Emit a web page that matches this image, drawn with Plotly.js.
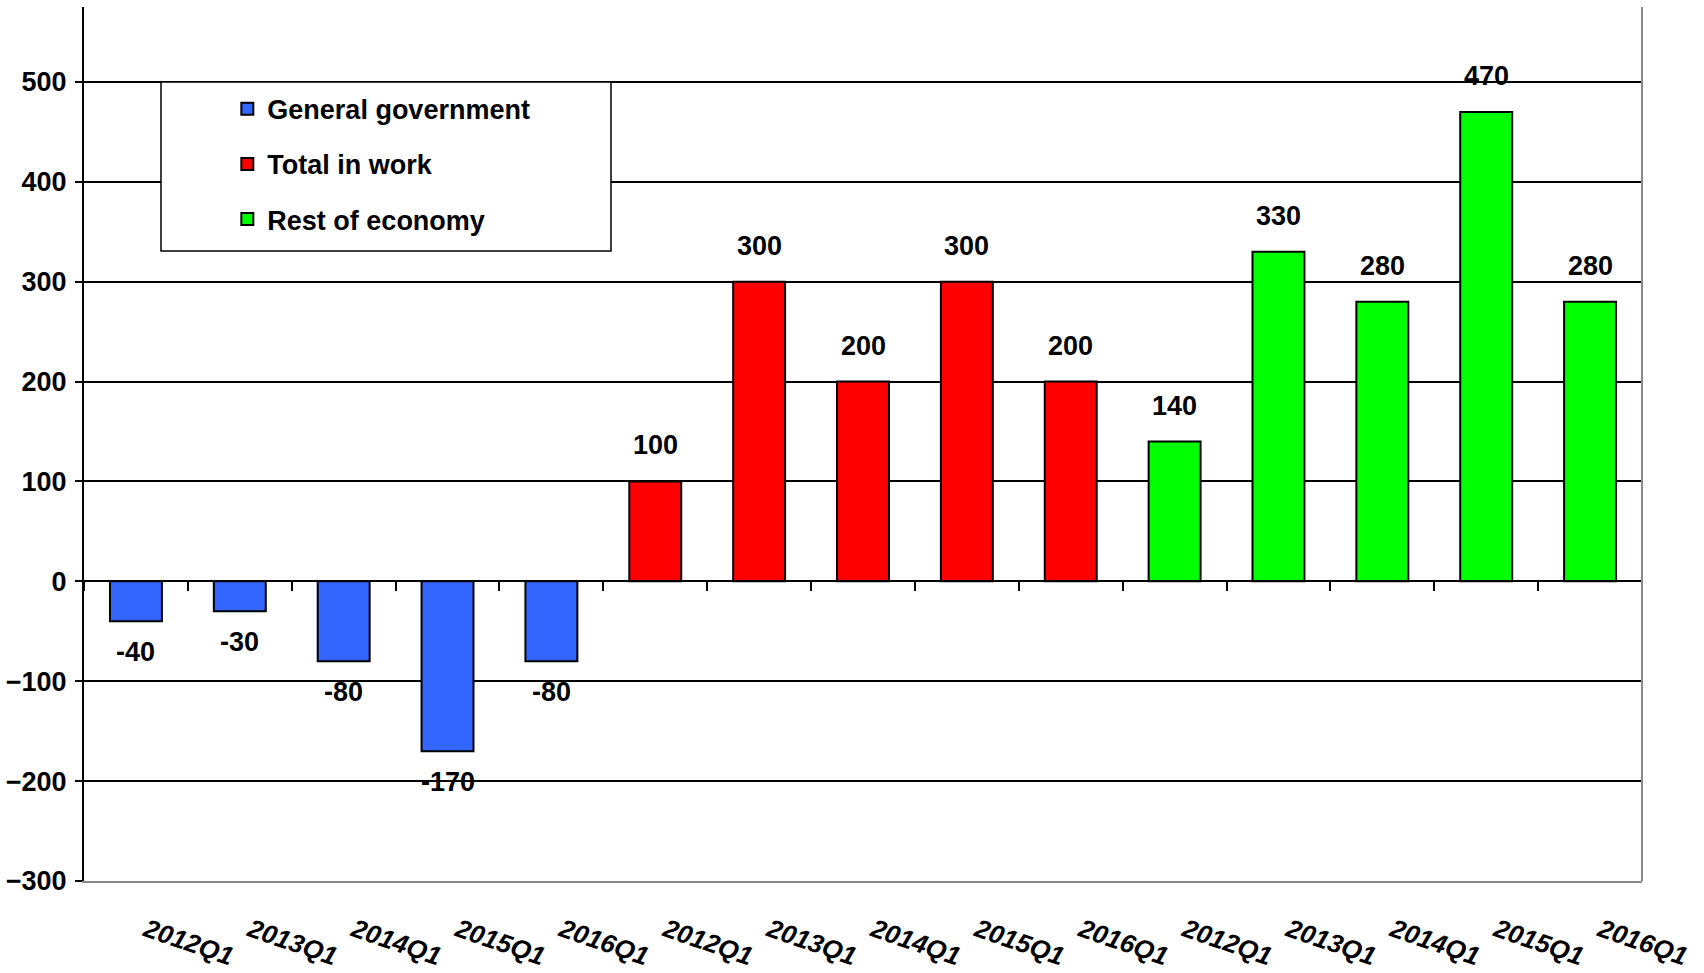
<!DOCTYPE html>
<html>
<head>
<meta charset="utf-8">
<script src="https://cdn.plot.ly/plotly-3.0.1.min.js"></script>
<style>
  html, body { margin: 0; padding: 0; background: #ffffff; }
  #chart { width: 1704px; height: 973px; }
</style>
</head>
<body>
<div id="chart"></div>
<script>
// ---- Data ----
const quarters = ['2012Q1', '2013Q1', '2014Q1', '2015Q1', '2016Q1'];
const generalGovernment = [-40, -30, -80, -170, -80];
const totalInWork = [100, 300, 200, 300, 200];
const restOfEconomy = [140, 330, 280, 470, 280];
const seriesNames = ['General government', 'Total in work', 'Rest of economy'];
const seriesColors = ['#3366FF', '#FF0000', '#00FF00'];
const seriesValues = [generalGovernment, totalInWork, restOfEconomy];

// ---- Build chart ----
const fontFam = 'Arial, Liberation Sans, sans-serif';
const nQ = quarters.length;
const nCat = nQ * seriesValues.length;
const labelNudge = 0.1; // small horizontal nudge of the slanted tick labels

const traces = [];
const annotations = [];
const tickVals = [];
const tickText = [];

seriesValues.forEach((vals, s) => {
  const xs = vals.map((_, i) => s * nQ + i);
  xs.forEach((x, i) => { tickVals.push(x + labelNudge); tickText.push(quarters[i]); });
  traces.push({
    type: 'bar',
    name: seriesNames[s],
    legendgroup: 'g' + s,
    x: xs,
    y: vals,
    width: 0.5,
    marker: { color: seriesColors[s], line: { color: '#000000', width: 2 } },
    hoverinfo: 'x+y+name'
  });
  vals.forEach((v, i) => {
    annotations.push({
      x: xs[i], y: v, xref: 'x', yref: 'y',
      text: String(v), showarrow: false,
      yanchor: v >= 0 ? 'bottom' : 'top',
      yshift: v >= 0 ? 19 : -14,
      font: { family: fontFam, size: 27, color: '#000000', weight: 'bold' }
    });
  });
});

// boundaries between categories for the tick marks on the zero line
const boundaries = [];
for (let k = 0; k <= nCat; k++) boundaries.push(k - 0.5);

// invisible trace to activate the zero-line axis
traces.push({
  type: 'scatter', x: [0], y: [0], xaxis: 'x2', yaxis: 'y',
  mode: 'markers', marker: { opacity: 0 }, showlegend: false, hoverinfo: 'skip'
});

const yMin = -300, yMax = 575;
const zeroPos = (0 - yMin) / (yMax - yMin);

const layout = {
  width: 1704,
  height: 973,
  margin: { l: 84, r: 62, t: 7, b: 92 },
  paper_bgcolor: '#ffffff',
  plot_bgcolor: '#ffffff',
  barmode: 'overlay',
  showlegend: true,
  legend: {
    x: 0.092, xanchor: 'left',
    y: 0.911, yanchor: 'top',
    bgcolor: 'rgba(0,0,0,0)',
    borderwidth: 0,
    tracegroupgap: 17,
    traceorder: 'grouped',
    font: { family: fontFam, size: 27, color: '#000000', weight: 'bold' }
  },
  xaxis: {
    range: [-0.5, nCat - 0.5],
    tickmode: 'array',
    tickvals: tickVals,
    ticktext: tickText,
    tickangle: 19,
    ticks: '',
    ticklabelstandoff: 22,
    tickfont: { family: fontFam, size: 26, color: '#000000', weight: 'bold', style: 'italic' },
    showgrid: false,
    zeroline: false,
    showline: true,
    linecolor: '#888888',
    linewidth: 2,
    fixedrange: true
  },
  xaxis2: {
    overlaying: 'x',
    anchor: 'free',
    position: zeroPos,
    side: 'bottom',
    range: [-0.5, nCat - 0.5],
    tickmode: 'array',
    tickvals: boundaries,
    ticks: 'outside',
    ticklen: 9,
    tickwidth: 2,
    tickcolor: '#000000',
    showticklabels: false,
    showgrid: false,
    zeroline: false,
    showline: true,
    linecolor: '#000000',
    linewidth: 2,
    fixedrange: true
  },
  yaxis: {
    range: [yMin, yMax],
    tickmode: 'linear',
    tick0: 0,
    dtick: 100,
    ticks: 'outside',
    ticklen: 7,
    tickwidth: 2,
    tickcolor: '#000000',
    ticklabelstandoff: 3,
    tickfont: { family: fontFam, size: 27, color: '#000000', weight: 'bold' },
    showgrid: true,
    gridcolor: '#000000',
    gridwidth: 2,
    zeroline: true,
    zerolinecolor: '#000000',
    zerolinewidth: 2,
    showline: true,
    linecolor: '#000000',
    linewidth: 2,
    fixedrange: true
  },
  shapes: [
    { type: 'line', xref: 'paper', yref: 'paper', x0: 1, x1: 1, y0: 0, y1: 1,
      line: { color: '#888888', width: 2 }, layer: 'above' },
    { type: 'rect', xref: 'paper', yref: 'paper',
      x0: (161 - 84) / 1558, x1: (611 - 84) / 1558,
      y0: (881 - 251) / 874, y1: (881 - 82) / 874,
      fillcolor: '#ffffff', line: { color: '#000000', width: 1.5 }, layer: 'above' }
  ],
  annotations: annotations
};

Plotly.newPlot('chart', traces, layout, { displayModeBar: false, staticPlot: true });
</script>
</body>
</html>
